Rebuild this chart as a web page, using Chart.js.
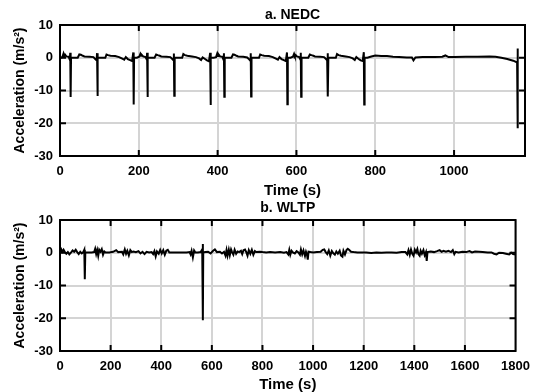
<!DOCTYPE html>
<html>
<head>
<meta charset="utf-8">
<script src="https://cdn.jsdelivr.net/npm/chart.js@4.4.1/dist/chart.umd.min.js"></script>
<style>
  body { margin: 0; background: #fff; }
  #wrap { position: relative; width: 538px; height: 392px; }
  canvas { position: absolute; left: 0; }
  #nedcChart { top: 0; }
  #wltpChart { top: 194px; }
</style>
</head>
<body>
<div id="wrap">
  <canvas id="nedcChart" width="538" height="200"></canvas>
  <canvas id="wltpChart" width="538" height="198"></canvas>
</div>
<script>
// [time (s), acceleration (m/s2)]
const nedcPoints = [
  [0,0],[6,0.2],[9,1.3],[11,0.5],[13,0.9],[16,0.4],[22,0.3],[25,-0.6],[26,1.5],[27,-12.0],
  [28,0],[45,0],[49,1.0],[53,0.9],[58,0.6],[62,0.4],[75,0.3],[85,0.2],[90,-0.5],[93,-0.8],
  [94,1.4],[95,-11.7],[96,0],[115,0],[118,1.0],[122,0.8],[128,0.6],[140,0.5],[150,0.2],[158,-0.3],
  [163,-0.6],[167,0.2],[172,-0.4],[178,-0.7],[183,-1.0],[186,1.6],[187,-14.3],[188,0],

  [195,0],[201,0.3],[204,1.2],[206,0.6],[208,0.8],[211,0.4],[217,0.2],[220,-0.5],[221,1.5],[222,-12.0],
  [223,0],[240,0],[244,1.0],[248,0.8],[253,0.6],[257,0.4],[270,0.3],[280,0.2],[285,-0.4],[288,-0.8],
  [289,1.3],[290,-11.6],[291,0],[310,0],[313,1.1],[317,0.8],[323,0.6],[335,0.4],[345,0.2],[353,-0.2],
  [358,-0.7],[362,0.1],[367,-0.3],[373,-0.8],[378,-1.1],[381,1.5],[382,-14.4],[383,0],

  [390,0],[396,0.2],[399,1.3],[401,0.5],[403,0.9],[406,0.4],[412,0.3],[415,-0.6],[416,1.4],[417,-11.9],
  [418,0],[435,0],[439,1.0],[443,0.9],[448,0.6],[452,0.4],[465,0.3],[475,0.1],[480,-0.5],[483,-0.9],
  [484,1.4],[485,-11.8],[486,0],[505,0],[508,1.0],[512,0.8],[518,0.6],[530,0.5],[540,0.2],[548,-0.3],
  [553,-0.6],[557,0.2],[562,-0.4],[568,-0.7],[573,-1.0],[576,1.6],[577,-14.2],[578,0],

  [585,0],[591,0.3],[594,1.2],[596,0.5],[598,0.8],[601,0.4],[607,0.2],[610,-0.5],[611,1.5],[612,-11.9],
  [613,0],[630,0],[634,1.0],[638,0.8],[643,0.6],[647,0.4],[660,0.3],[670,0.2],[675,-0.4],[678,-0.8],
  [679,1.4],[680,-11.8],[681,0],[700,0],[703,1.1],[707,0.8],[713,0.6],[725,0.4],[735,0.2],[743,-0.2],
  [748,-0.7],[752,0.2],[757,-0.3],[763,-0.8],[768,-1.0],[771,1.7],[772,-14.3],[773,0],

  [780,0],[790,0.4],[800,0.7],[815,0.5],[830,0.5],[845,0.3],[860,0.2],[880,0.1],[893,0.1],[897,-0.8],
  [902,0.1],[920,0.2],[950,0.2],[970,0.3],[978,0.7],[986,0.2],[1000,0.2],[1030,0.3],[1060,0.3],[1090,0.4],
  [1105,0.3],[1120,0.0],[1135,-0.4],[1150,-0.9],[1158,-1.3],[1160,-1.6],[1161,2.8],[1162,-21.5]
];

const wltpPoints = [
  [0,0.2],[5,1.0],[9,0.3],[14,0.9],[19,0.2],[25,-0.3],[31,0.2],[37,-0.5],[44,0.1],[50,0.7],
  [56,0.3],[62,0.9],[68,0.2],[74,-0.4],[80,0.3],[86,-0.2],[92,0.2],[96,0.9],[98,-8.1],[100,0.1],
  [112,0.1],[125,0.1],[135,0.2],[139,1.2],[143,-0.4],[147,0.8],[151,-0.9],[155,0.9],[160,0.3],[165,1.1],
  [170,-0.6],[175,0.4],[180,0.1],[195,0.1],[210,0.3],[222,0.8],[230,0.2],[245,0.3],[250,-0.5],[256,1.0],
  [261,-0.3],[266,0.6],[272,-0.8],[278,0.8],[284,0.2],[290,0.4],[300,0.2],[310,0.5],[318,-0.2],[326,0.3],
  [334,-0.4],[342,0.3],[352,0.1],[362,0.2],[368,-0.4],[373,0.5],[378,-1.1],[383,0.4],[390,-0.3],[396,0.9],
  [402,-0.2],[408,0.8],[414,-0.6],[420,0.6],[426,0.9],[432,0.1],[440,0.1],[460,0.1],[480,0.1],[500,0.1],
  [512,0.2],[516,-0.5],[520,0.6],[525,-1.4],[530,0.7],[535,0.1],[545,0.1],[556,0.2],[562,1.0],[564,2.7],
  [565,-20.6],[566,0.1],[575,0.2],[585,0.3],[595,-0.2],[605,0.6],[612,1.0],[620,0.2],[632,0.3],[640,-0.2],
  [648,0.3],[654,-0.9],[658,0.8],[662,-0.9],[667,0.9],[671,-0.7],[676,1.0],[680,0.2],[685,-0.6],[690,0.9],
  [696,-0.3],[702,0.4],[708,0.2],[715,0.6],[720,-0.4],[725,0.8],[731,1.0],[736,0.2],[741,-0.9],[746,0.8],
  [752,-0.3],[758,0.9],[764,-0.6],[770,0.5],[775,0.2],[790,0.3],[800,0.2],[815,0.1],[830,0.2],[850,0.1],
  [870,0.2],[885,0.0],[895,0.2],[902,-0.5],[906,0.9],[910,-0.6],[915,0.6],[920,0.1],[928,-0.2],[935,0.5],
  [942,0.1],[948,-0.6],[952,1.0],[957,-0.5],[962,0.7],[968,-1.0],[972,0.3],[976,-0.6],[979,-2.1],[982,0.3],
  [990,0.2],[1000,0.1],[1015,0.2],[1030,0.3],[1038,0.9],[1044,1.0],[1050,0.2],[1056,-0.4],[1062,0.7],[1068,-0.9],
  [1074,0.5],[1080,-0.2],[1086,-0.6],[1092,0.4],[1098,-0.3],[1105,0.6],[1110,-0.8],[1116,-1.2],[1120,0.6],[1126,-0.5],
  [1132,0.8],[1137,1.2],[1142,0.9],[1150,0.3],[1160,0.2],[1175,0.1],[1190,0.1],[1210,0.1],[1230,-0.1],[1250,0.1],
  [1270,0.0],[1290,0.1],[1310,0.1],[1330,0.0],[1350,0.2],[1365,0.2],[1372,-0.5],[1377,0.8],[1382,-0.6],[1387,1.0],
  [1392,-0.3],[1397,-0.9],[1402,0.9],[1407,0.1],[1412,1.1],[1416,-0.4],[1421,-0.9],[1425,0.6],[1430,-0.3],[1436,0.8],
  [1441,-0.7],[1446,0.2],[1449,-2.5],[1452,0.2],[1465,0.4],[1478,0.2],[1490,0.5],[1500,0.8],[1508,0.3],[1515,0.6],
  [1525,0.3],[1535,0.6],[1545,0.2],[1552,0.8],[1558,-0.4],[1563,0.3],[1575,0.1],[1590,0.3],[1605,0.2],[1618,0.5],
  [1628,0.1],[1640,0.4],[1655,0.3],[1670,0.2],[1690,0.1],[1705,0.1],[1715,-0.3],[1725,-0.5],[1735,0.0],[1750,-0.1],
  [1762,-0.3],[1775,-0.5],[1783,0.0],[1790,-0.4],[1800,-0.5]
];

const yTicks = [-30, -20, -10, 0, 10];
const nedcXTicks = [0, 200, 400, 600, 800, 1000];
const wltpXTicks = [0, 200, 400, 600, 800, 1000, 1200, 1400, 1600, 1800];

const FONT = "'Liberation Sans', Arial, Helvetica, sans-serif";

// black box round the plot with short inward tick marks
const frame = {
    id: "frame",
    afterDraw(chart) {
        const { ctx, chartArea: a, scales } = chart;
        const len = 6;
        ctx.save();
        ctx.strokeStyle = "#000";
        ctx.lineWidth = 2;
        ctx.beginPath();
        scales.x.ticks.forEach(t => {
            const px = scales.x.getPixelForValue(t.value);
            if (px <= a.left + 1 || px >= a.right - 1) return;
            ctx.moveTo(px, a.bottom); ctx.lineTo(px, a.bottom - len);
            ctx.moveTo(px, a.top); ctx.lineTo(px, a.top + len);
        });
        scales.y.ticks.forEach(t => {
            const py = scales.y.getPixelForValue(t.value);
            if (py <= a.top + 1 || py >= a.bottom - 1) return;
            ctx.moveTo(a.left, py); ctx.lineTo(a.left + len, py);
            ctx.moveTo(a.right, py); ctx.lineTo(a.right - len, py);
        });
        ctx.stroke();
        ctx.strokeRect(a.left, a.top, a.right - a.left, a.bottom - a.top);
        ctx.restore();
    }
};

function makeChart(id, title, points, xMax, xTicks, o) {
    return new Chart(document.getElementById(id), {
        type: "line",
        data: {
            datasets: [{
                data: points.map(p => ({ x: p[0], y: p[1] })),
                borderColor: "#000",
                borderWidth: 2,
                pointRadius: 0,
                tension: 0,
                fill: false
            }]
        },
        options: {
            responsive: false,
            animation: false,
            devicePixelRatio: 1,
            layout: { padding: { left: 0, right: o.right, top: 0, bottom: 0 } },
            plugins: {
                legend: { display: false },
                tooltip: { enabled: false },
                title: {
                    display: true,
                    fullSize: false,
                    text: title,
                    color: "#000",
                    font: { family: FONT, size: 14, weight: "bold", lineHeight: 1.1 },
                    padding: { top: o.titleTop, bottom: o.titleBottom }
                }
            },
            scales: {
                x: {
                    type: "linear",
                    min: 0,
                    max: xMax,
                    afterBuildTicks: s => { s.ticks = xTicks.map(v => ({ value: v })); },
                    afterFit: s => { s.height = o.xHeight; },
                    grid: { color: "#d4d4d4", lineWidth: 2, drawTicks: false },
                    border: { display: false },
                    ticks: {
                        color: "#000",
                        padding: 8,
                        maxRotation: 0,
                        callback: v => String(v),
                        font: { family: FONT, size: 13, weight: "bold" }
                    },
                    title: {
                        display: true,
                        text: "Time (s)",
                        color: "#000",
                        padding: { top: 0, bottom: o.xTitleBottom },
                        font: { family: FONT, size: 15, weight: "bold", lineHeight: 1 }
                    }
                },
                y: {
                    min: -30,
                    max: 10,
                    afterBuildTicks: s => { s.ticks = yTicks.map(v => ({ value: v })); },
                    afterFit: s => { s.width = 60; },
                    grid: { color: "#d4d4d4", lineWidth: 2, drawTicks: false },
                    border: { display: false },
                    ticks: {
                        color: "#000",
                        padding: 7,
                        callback: v => String(v),
                        font: { family: FONT, size: 13, weight: "bold" }
                    },
                    title: {
                        display: true,
                        text: "Acceleration (m/s²)",
                        color: "#000",
                        padding: { top: 12, bottom: 0 },
                        font: { family: FONT, size: 14, weight: "bold", lineHeight: 1.2 }
                    }
                }
            }
        },
        plugins: [frame]
    });
}

document.addEventListener("DOMContentLoaded", function () {
    if (typeof Chart === "undefined") return;

    makeChart("nedcChart", "a. NEDC", nedcPoints, 1180, nedcXTicks,
        { right: 13, titleTop: 7.3, titleBottom: 2.3, xHeight: 44, xTitleBottom: 2 });

    makeChart("wltpChart", "b. WLTP", wltpPoints, 1800, wltpXTicks,
        { right: 14, titleTop: 6.3, titleBottom: 4.3, xHeight: 41, xTitleBottom: 0 });
});
</script>
</body>
</html>
